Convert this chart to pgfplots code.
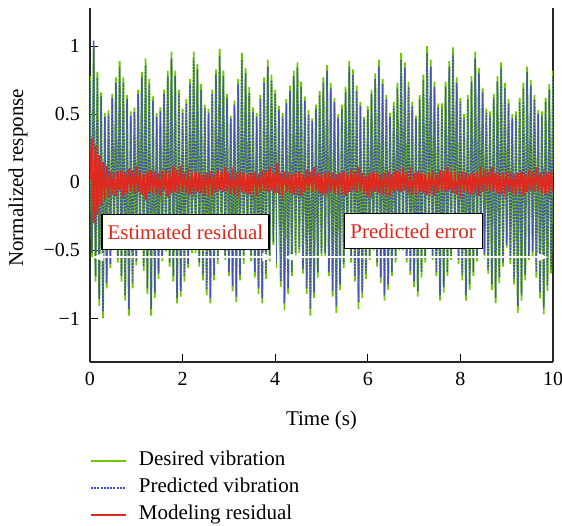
\documentclass[border=0pt]{standalone}
\usepackage{fontspec}
\setmainfont{Liberation Serif}
\usepackage{pgfplots}
\usepackage{pgfplotstable}
\pgfplotsset{compat=1.18}
\usetikzlibrary{arrows.meta}
\definecolor{cgreen}{RGB}{112,200,0}
\definecolor{cblue}{RGB}{66,80,185}
\definecolor{cred}{RGB}{222,42,30}

\pgfplotstableread{
t g b r
0.00 0.78 0.74 0.02
0.04 -0.55 -0.52 0.32
0.08 1.00 1.04 -0.30
0.12 -0.73 -0.69 0.27
0.16 0.81 0.77 -0.24
0.20 -0.91 -0.86 0.20
0.24 0.66 0.63 -0.17
0.28 -1.00 -0.95 0.15
0.32 0.51 0.48 -0.13
0.36 -0.78 -0.74 0.12
0.40 0.53 0.50 -0.11
0.44 -0.63 -0.60 0.08
0.48 0.65 0.62 -0.09
0.52 -0.48 -0.46 0.07
0.56 0.77 0.73 -0.10
0.60 -0.59 -0.56 0.08
0.64 0.89 0.85 -0.06
0.68 -0.73 -0.69 0.09
0.72 0.77 0.73 -0.11
0.76 -0.87 -0.83 0.07
0.80 0.64 0.61 -0.08
0.84 -0.98 -0.93 0.10
0.88 0.52 0.49 -0.07
0.92 -0.78 -0.74 0.09
0.96 0.55 0.52 -0.08
1.00 -0.61 -0.58 0.12
1.04 0.68 0.65 -0.07
1.08 -0.48 -0.46 0.08
1.12 0.81 0.77 -0.09
1.16 -0.65 -0.62 0.06
1.20 0.91 0.86 -0.13
1.24 -0.82 -0.78 0.08
1.28 0.76 0.72 -0.07
1.32 -0.98 -0.93 0.09
1.36 0.63 0.60 -0.08
1.40 -0.85 -0.81 0.08
1.44 0.51 0.48 -0.09
1.48 -0.71 -0.67 0.07
1.52 0.55 0.52 -0.10
1.56 -0.58 -0.55 0.08
1.60 0.68 0.65 -0.06
1.64 -0.51 -0.48 0.09
1.68 0.82 0.78 -0.11
1.72 -0.62 -0.59 0.07
1.76 0.96 0.91 -0.08
1.80 -0.73 -0.69 0.12
1.84 0.82 0.78 -0.07
1.88 -0.89 -0.85 0.09
1.92 0.68 0.65 -0.08
1.96 -0.84 -0.80 0.12
2.00 0.54 0.51 -0.06
2.04 -0.73 -0.69 0.07
2.08 0.61 0.58 -0.08
2.12 -0.63 -0.60 0.05
2.16 0.76 0.72 -0.09
2.20 -0.52 -0.49 0.07
2.24 0.96 0.91 -0.06
2.28 -0.52 -0.49 0.08
2.32 0.87 0.83 -0.07
2.36 -0.62 -0.59 0.07
2.40 0.72 0.68 -0.08
2.44 -0.72 -0.68 0.06
2.48 0.57 0.54 -0.09
2.52 -0.83 -0.79 0.07
2.56 0.54 0.51 -0.05
2.60 -0.89 -0.85 0.08
2.64 0.68 0.65 -0.10
2.68 -0.72 -0.68 0.06
2.72 0.83 0.79 -0.07
2.76 -0.60 -0.57 0.09
2.80 0.98 0.93 -0.06
2.84 -0.48 -0.46 0.08
2.88 0.82 0.78 -0.07
2.92 -0.57 -0.54 0.11
2.96 0.65 0.62 -0.06
3.00 -0.69 -0.66 0.07
3.04 0.49 0.47 -0.08
3.08 -0.80 -0.76 0.05
3.12 0.60 0.57 -0.09
3.16 -0.88 -0.84 0.07
3.20 0.76 0.72 -0.06
3.24 -0.72 -0.68 0.08
3.28 0.95 0.90 -0.07
3.32 -0.60 -0.57 0.07
3.36 0.84 0.80 -0.08
3.40 -0.48 -0.46 0.06
3.44 0.70 0.66 -0.09
3.48 -0.58 -0.55 0.07
3.52 0.55 0.52 -0.05
3.56 -0.70 -0.66 0.08
3.60 0.51 0.48 -0.10
3.64 -0.82 -0.78 0.06
3.68 0.64 0.61 -0.07
3.72 -0.89 -0.85 0.09
3.76 0.77 0.73 -0.06
3.80 -0.71 -0.67 0.08
3.84 0.90 0.85 -0.07
3.88 -0.58 -0.55 0.11
3.92 0.79 0.75 -0.06
3.96 -0.46 -0.44 0.07
4.00 0.68 0.65 -0.08
4.04 -0.63 -0.60 0.14
4.08 0.56 0.53 -0.09
4.12 -0.77 -0.73 0.07
4.16 0.51 0.48 -0.06
4.20 -0.94 -0.89 0.08
4.24 0.61 0.58 -0.07
4.28 -0.82 -0.78 0.07
4.32 0.71 0.67 -0.08
4.36 -0.69 -0.66 0.06
4.40 0.82 0.78 -0.09
4.44 -0.55 -0.52 0.07
4.48 0.88 0.84 -0.05
4.52 -0.52 -0.49 0.08
4.56 0.74 0.70 -0.10
4.60 -0.67 -0.64 0.06
4.64 0.63 0.60 -0.07
4.68 -0.82 -0.78 0.09
4.72 0.53 0.50 -0.06
4.76 -0.98 -0.93 0.08
4.80 0.47 0.45 -0.07
4.84 -0.85 -0.81 0.11
4.88 0.57 0.54 -0.06
4.92 -0.70 -0.66 0.07
4.96 0.67 0.64 -0.08
5.00 -0.55 -0.52 0.05
5.04 0.77 0.73 -0.09
5.08 -0.55 -0.52 0.07
5.12 0.86 0.82 -0.06
5.16 -0.69 -0.66 0.08
5.20 0.73 0.69 -0.07
5.24 -0.84 -0.80 0.07
5.28 0.62 0.59 -0.08
5.32 -0.96 -0.91 0.06
5.36 0.50 0.47 -0.09
5.40 -0.79 -0.75 0.07
5.44 0.57 0.54 -0.05
5.48 -0.63 -0.60 0.08
5.52 0.70 0.66 -0.10
5.56 -0.48 -0.46 0.06
5.60 0.89 0.85 -0.07
5.64 -0.59 -0.56 0.09
5.68 0.83 0.79 -0.06
5.72 -0.73 -0.69 0.08
5.76 0.71 0.67 -0.07
5.80 -0.93 -0.88 0.11
5.84 0.59 0.56 -0.06
5.88 -0.85 -0.81 0.07
5.92 0.48 0.46 -0.08
5.96 -0.71 -0.67 0.05
6.00 0.56 0.53 -0.11
6.04 -0.57 -0.54 0.07
6.08 0.68 0.65 -0.06
6.12 -0.50 -0.48 0.08
6.16 0.80 0.76 -0.07
6.20 -0.62 -0.59 0.07
6.24 0.90 0.85 -0.08
6.28 -0.74 -0.70 0.06
6.32 0.76 0.72 -0.09
6.36 -0.87 -0.83 0.07
6.40 0.64 0.61 -0.05
6.44 -0.79 -0.75 0.08
6.48 0.51 0.48 -0.10
6.52 -0.69 -0.66 0.06
6.56 0.59 0.56 -0.07
6.60 -0.59 -0.56 0.09
6.64 0.73 0.69 -0.06
6.68 -0.50 -0.48 0.08
6.72 0.95 0.90 -0.07
6.76 -0.50 -0.48 0.11
6.80 0.88 0.84 -0.06
6.84 -0.59 -0.56 0.07
6.88 0.74 0.70 -0.08
6.92 -0.68 -0.65 0.05
6.96 0.59 0.56 -0.09
7.00 -0.77 -0.73 0.07
7.04 0.49 0.47 -0.06
7.08 -0.84 -0.80 0.08
7.12 0.64 0.61 -0.07
7.16 -0.70 -0.66 0.07
7.20 0.79 0.75 -0.08
7.24 -0.59 -0.56 0.06
7.28 1.00 0.95 -0.09
7.32 -0.47 -0.45 0.07
7.36 0.90 0.85 -0.05
7.40 -0.57 -0.54 0.08
7.44 0.74 0.70 -0.10
7.48 -0.69 -0.66 0.06
7.52 0.58 0.55 -0.07
7.56 -0.87 -0.83 0.09
7.60 0.58 0.55 -0.06
7.64 -0.81 -0.77 0.08
7.68 0.74 0.70 -0.07
7.72 -0.69 -0.66 0.11
7.76 0.89 0.85 -0.06
7.80 -0.57 -0.54 0.07
7.84 0.99 0.94 -0.08
7.88 -0.47 -0.45 0.05
7.92 0.77 0.73 -0.09
7.96 -0.60 -0.57 0.07
8.00 0.62 0.59 -0.06
8.04 -0.72 -0.68 0.08
8.08 0.50 0.47 -0.07
8.12 -0.87 -0.83 0.07
8.16 0.64 0.61 -0.08
8.20 -0.79 -0.75 0.06
8.24 0.78 0.74 -0.09
8.28 -0.69 -0.66 0.07
8.32 0.96 0.91 -0.05
8.36 -0.58 -0.55 0.08
8.40 0.84 0.80 -0.10
8.44 -0.47 -0.45 0.11
8.48 0.69 0.66 -0.07
8.52 -0.56 -0.53 0.09
8.56 0.54 0.51 -0.06
8.60 -0.67 -0.64 0.08
8.64 0.52 0.49 -0.07
8.68 -0.79 -0.75 0.11
8.72 0.65 0.62 -0.06
8.76 -0.89 -0.85 0.07
8.80 0.78 0.74 -0.08
8.84 -0.74 -0.70 0.05
8.88 0.88 0.84 -0.09
8.92 -0.62 -0.59 0.07
8.96 0.73 0.69 -0.06
9.00 -0.48 -0.46 0.08
9.04 0.61 0.58 -0.07
9.08 -0.60 -0.57 0.07
9.12 0.50 0.47 -0.08
9.16 -0.75 -0.71 0.06
9.20 0.52 0.49 -0.09
9.24 -0.96 -0.91 0.07
9.28 0.62 0.59 -0.05
9.32 -0.87 -0.83 0.08
9.36 0.73 0.69 -0.10
9.40 -0.72 -0.68 0.06
9.44 0.85 0.81 -0.07
9.48 -0.57 -0.54 0.09
9.52 0.75 0.71 -0.06
9.56 -0.54 -0.51 0.08
9.60 0.64 0.61 -0.07
9.64 -0.70 -0.66 0.11
9.68 0.53 0.50 -0.06
9.72 -0.85 -0.81 0.07
9.76 0.52 0.49 -0.08
9.80 -0.97 -0.92 0.05
9.84 0.62 0.59 -0.09
9.88 -0.80 -0.76 0.07
9.92 0.72 0.68 -0.06
9.96 -0.67 -0.64 0.08
10.00 0.82 0.78 -0.07
}\datatable

\begin{document}
\fontsize{21}{25}\selectfont
\begin{tikzpicture}
\begin{axis}[
  scale only axis, width=463pt, height=354pt,
  xmin=0, xmax=10, ymin=-1.32, ymax=1.28,
  xtick={0,2,4,6,8,10}, xticklabels={0,2,4,6,8,10},
  ytick={-1,-0.5,0,0.5,1}, yticklabels={−1,−0.5,0,0.5,1},
  axis x line*=bottom, axis y line*=box,
  xtick pos=bottom, ytick pos=left,
  tick align=inside, major tick length=8pt,
  axis line style={line width=1.2pt, black!85},
  tick style={line width=1pt, black},
  xticklabel style={font=\fontsize{20}{24}\selectfont, yshift=-3pt},
  yticklabel style={font=\fontsize{20}{24}\selectfont, xshift=-3pt},
  xlabel={Time (s)}, ylabel={Normalized response},
  xlabel style={at={([yshift=-58pt]axis description cs:0.5,0)}, anchor=center},
  ylabel style={at={([xshift=-72pt]axis description cs:0,0.52)}, anchor=center},
  legend cell align=left,
  legend style={draw=none, fill=none, at={(0,-0.247)}, anchor=north west,
    inner sep=0pt, outer sep=0pt, row sep=4pt, column sep=10pt,
    nodes={inner sep=2pt, text height=14pt, text depth=5pt}},
  legend image code/.code={\draw[#1] (0pt,0pt) -- (35pt,0pt);},
]
\addplot[cgreen, line width=1.8pt, no markers] table[x=t, y=g] {\datatable};
\addplot[cblue, line width=1.5pt, dash pattern=on 2pt off 1.2pt, no markers] table[x=t, y=b] {\datatable};
\addplot[cred, line width=1.9pt, no markers] table[x=t, y=r] {\datatable};
\legend{Desired vibration, Predicted vibration, Modeling residual}
\draw[white, line width=1.6pt] (axis cs:4.05,-0.08) -- (axis cs:4.05,-0.63);
\draw[white, line width=1.6pt, {Triangle[length=11pt,width=8pt]}-{Triangle[length=11pt,width=8pt]}] (axis cs:0.05,-0.55) -- (axis cs:3.96,-0.55);
\draw[white, line width=1.6pt, {Triangle[length=11pt,width=8pt]}-{Triangle[length=11pt,width=8pt]}] (axis cs:4.20,-0.55) -- (axis cs:9.90,-0.55);
\node[draw=black, line width=1.3pt, fill=white, text=cred, minimum width=167pt, minimum height=35pt, inner sep=0pt] at (axis cs:2.06,-0.365) {Estimated residual};
\node[draw=black, line width=1.3pt, fill=white, text=cred, minimum width=138pt, minimum height=35pt, inner sep=0pt] at (axis cs:6.98,-0.358) {Predicted error};
\end{axis}
\pgfresetboundingbox
\path[use as bounding box] (-90pt,-164pt) rectangle (472pt,362pt);
\end{tikzpicture}
\end{document}
